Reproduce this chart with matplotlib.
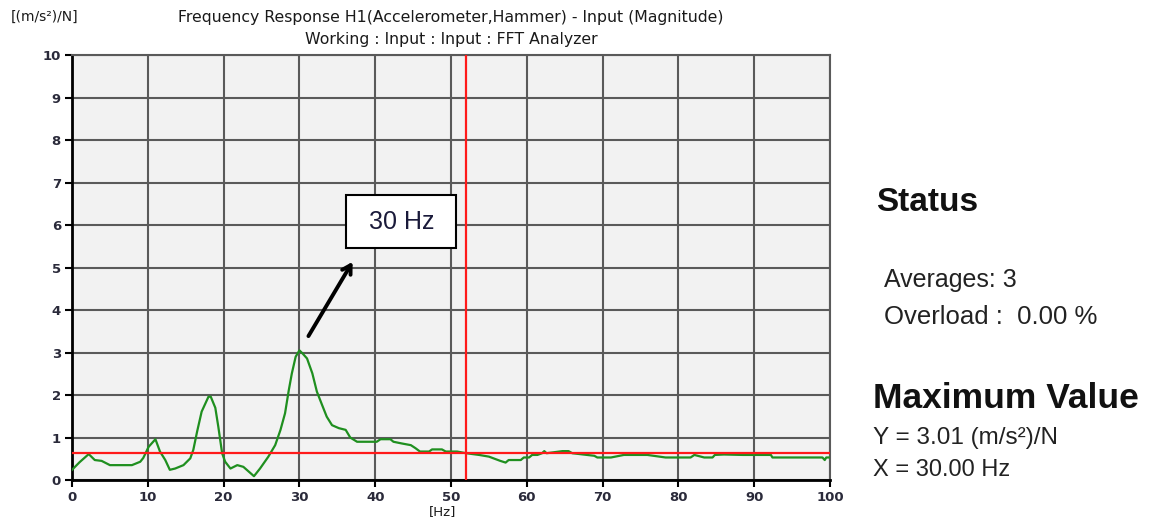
import matplotlib
matplotlib.use("Agg")
import matplotlib.pyplot as plt
from matplotlib.patches import Rectangle

# ---- data ----
freq_hz = [0, 1.0, 2.2, 3.0, 3.9, 5.0, 6.5, 7.9, 9.0, 9.4, 10.1, 11.0, 11.6, 12.3, 12.9,
           13.6, 14.7, 15.6, 16.0, 16.5, 17.1, 18.0, 18.3, 18.9, 19.3, 19.8, 20.2, 20.9,
           21.8, 22.6, 24.0, 24.8, 25.9, 26.8, 27.5, 28.1, 28.6, 29.0, 29.5, 30.0, 30.4,
           31.0, 31.7, 32.3, 33.0, 33.6, 34.3, 35.2, 36.1, 36.7, 37.6, 39.4, 40.2, 40.7,
           42.0, 42.4, 43.5, 44.7, 45.3, 45.9, 47.1, 47.5, 48.8, 49.3, 50.8, 52.0, 53.7,
           55.0, 55.9, 56.5, 57.2, 57.6, 59.2, 59.6, 60.3, 60.7, 61.4, 62.0, 62.3, 62.6,
           64.7, 65.5, 66.0, 68.9, 69.3, 71.1, 72.8, 75.9, 78.3, 81.6, 82.1, 83.4, 84.5,
           84.8, 86.0, 88.5, 92.2, 92.4, 99.0, 99.3, 99.5, 100]
magnitude = [0.24, 0.42, 0.61, 0.47, 0.45, 0.35, 0.35, 0.35, 0.43, 0.52, 0.78, 0.96, 0.67,
             0.47, 0.24, 0.27, 0.35, 0.51, 0.71, 1.14, 1.61, 1.96, 1.96, 1.70, 1.25, 0.63,
             0.43, 0.27, 0.35, 0.31, 0.09, 0.27, 0.55, 0.82, 1.18, 1.57, 2.12, 2.51, 2.90,
             3.05, 2.98, 2.86, 2.51, 2.08, 1.76, 1.49, 1.29, 1.22, 1.18, 1.00, 0.90, 0.90,
             0.90, 0.96, 0.96, 0.90, 0.86, 0.82, 0.75, 0.67, 0.67, 0.72, 0.72, 0.67, 0.67,
             0.63, 0.59, 0.55, 0.49, 0.45, 0.41, 0.47, 0.47, 0.53, 0.53, 0.59, 0.59, 0.63,
             0.68, 0.63, 0.68, 0.68, 0.63, 0.57, 0.53, 0.53, 0.59, 0.59, 0.53, 0.53, 0.59,
             0.53, 0.53, 0.59, 0.60, 0.59, 0.59, 0.53, 0.53, 0.47, 0.53, 0.53]
cursor_x = 52.0
cursor_y = 0.63
x_ticks = [0, 10, 20, 30, 40, 50, 60, 70, 80, 90, 100]
y_ticks = [0, 1, 2, 3, 4, 5, 6, 7, 8, 9, 10]

FONT = "Liberation Sans"

fig = plt.figure(figsize=(11.49, 5.23), dpi=100)
fig.patch.set_facecolor("white")
ax = fig.add_axes([0.0627, 0.0822, 0.6597, 0.8126])
ax.set_facecolor("#f2f2f2")

ax.plot(freq_hz, magnitude, color="#1f8f1f", lw=1.6, zorder=3)
ax.axvline(cursor_x, color="#ff1a1a", lw=1.6, zorder=4)
ax.axhline(cursor_y, color="#ff1a1a", lw=1.6, zorder=4)

ax.set_xlim(0, 100)
ax.set_ylim(0, 10)
ax.set_xticks(x_ticks)
ax.set_yticks(y_ticks)
ax.grid(True, color="#5a5a5a", lw=1.5, zorder=1)
ax.set_axisbelow(True)
for s in ["top", "right"]:
    ax.spines[s].set_color("#5a5a5a")
    ax.spines[s].set_linewidth(1.5)
for s in ["left", "bottom"]:
    ax.spines[s].set_color("black")
    ax.spines[s].set_linewidth(2)
ax.tick_params(axis="both", direction="out", length=5, width=1.5, color="black",
               labelsize=9.5, labelcolor="#2a2a3a", pad=3)
for lab in ax.get_xticklabels() + ax.get_yticklabels():
    lab.set_fontweight("bold")
    lab.set_family("DejaVu Sans")

# annotation
ax.add_patch(Rectangle((36.2, 5.45), 14.5, 1.25, facecolor="white", edgecolor="black",
                       lw=1.5, zorder=6))
ax.text(43.45, 6.07, "30 Hz", ha="center", va="center", fontsize=18, family=FONT,
        color="#1a1a3a", zorder=7)
ax.annotate("", xy=(37.2, 5.19), xytext=(31.0, 3.33),
            arrowprops=dict(arrowstyle="->,head_length=0.6,head_width=0.35",
                            color="black", lw=2.8), zorder=7)

# titles
fig.text(0.3925, 0.967, "Frequency Response H1(Accelerometer,Hammer) - Input (Magnitude)",
         ha="center", va="center", fontsize=11.3, family="DejaVu Sans", color="#1a1a1a")
fig.text(0.3925, 0.925, "Working : Input : Input : FFT Analyzer",
         ha="center", va="center", fontsize=11.3, family="DejaVu Sans", color="#1a1a1a")
fig.text(0.009, 0.967, "[(m/s²)/N]", ha="left", va="center", fontsize=10,
         family="DejaVu Sans", color="#1a1a1a")
fig.text(0.3856, 0.021, "[Hz]", ha="center", va="center", fontsize=9.5,
         family="DejaVu Sans", color="#1a1a1a")

# right panel
fig.text(0.7624, 0.612, "Status", ha="left", va="center", fontsize=24,
         fontweight="bold", family=FONT, color="#111111")
fig.text(0.7694, 0.4646, "Averages: 3", ha="left", va="center", fontsize=18,
         family=FONT, color="#222222")
fig.text(0.7694, 0.394, "Overload :  0.00 %", ha="left", va="center", fontsize=18.5,
         family=FONT, color="#222222")
fig.text(0.760, 0.239, "Maximum Value", ha="left", va="center", fontsize=25.5,
         fontweight="bold", family=FONT, color="#111111")
fig.text(0.760, 0.1625, "Y = 3.01 (m/s²)/N", ha="left", va="center", fontsize=17.5,
         family=FONT, color="#222222")
fig.text(0.760, 0.1013, "X = 30.00 Hz", ha="left", va="center", fontsize=17,
         family=FONT, color="#222222")

fig.savefig("out.png", dpi=100, facecolor="white")
